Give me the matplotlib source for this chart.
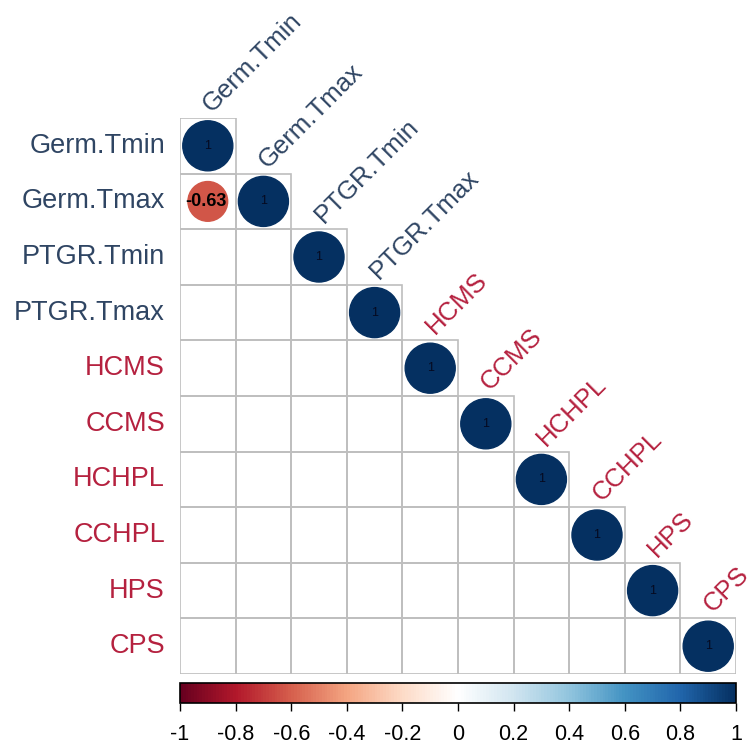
import numpy as np
import matplotlib
matplotlib.use("Agg")
import matplotlib.pyplot as plt
from matplotlib.colors import LinearSegmentedColormap, Normalize
from matplotlib.patches import Circle, Rectangle
from matplotlib.cm import ScalarMappable

plt.rcParams["font.family"] = ["Liberation Sans", "DejaVu Sans"]

labels = ["Germ.Tmin", "Germ.Tmax", "PTGR.Tmin", "PTGR.Tmax", "HCMS",
          "CCMS", "HCHPL", "CCHPL", "HPS", "CPS"]
label_groups = ["germ", "germ", "germ", "germ", "trait",
                "trait", "trait", "trait", "trait", "trait"]

# lower triangle, None = not significant (left blank)
corr_rows = [
    [1],
    [-0.63, 1],
    [None, None, 1],
    [None, None, None, 1],
    [None, None, None, None, 1],
    [None, None, None, None, None, 1],
    [None, None, None, None, None, None, 1],
    [None, None, None, None, None, None, None, 1],
    [None, None, None, None, None, None, None, None, 1],
    [None, None, None, None, None, None, None, None, None, 1],
]

bar_ticks = [-1, -0.8, -0.6, -0.4, -0.2, 0, 0.2, 0.4, 0.6, 0.8, 1]

group_colors = {"germ": "#2F4563", "trait": "#B5213F"}
rdbu = ["#67001F", "#B2182B", "#D6604D", "#F4A582", "#FDDBC7", "#FFFFFF",
        "#D1E5F0", "#92C5DE", "#4393C3", "#2166AC", "#053061"]
cmap = LinearSegmentedColormap.from_list("corr", rdbu, N=200)
norm = Normalize(-1, 1)

W, H = 752, 748
fig = plt.figure(figsize=(W / 100, H / 100), dpi=100)

n = len(labels)
left, right, top, bottom = 180, 736, 118, 674
ax = fig.add_axes([left / W, 1 - bottom / H, (right - left) / W, (bottom - top) / H])
ax.set_xlim(0, n)
ax.set_ylim(n, 0)
ax.axis("off")

for i, row in enumerate(corr_rows):
    for j, val in enumerate(row):
        ax.add_patch(Rectangle((j, i), 1, 1, facecolor="none",
                               edgecolor="#BEBEBE", lw=1.2, zorder=1))
        if val is None:
            continue
        r = 0.45 * np.sqrt(abs(val))
        c = cmap(norm(val))
        ax.add_patch(Circle((j + 0.5, i + 0.5), r, facecolor=c, edgecolor=c, zorder=2))
        if val == 1:
            ax.text(j + 0.5, i + 0.5, "1", ha="center", va="center", fontsize=9,
                    color="#050A20", zorder=3)
        else:
            ax.text(j + 0.47, i + 0.5, f"{val:.2f}", ha="center", va="center",
                    fontsize=13, fontweight="bold", color="black", zorder=3)

# row labels
for i, lab in enumerate(labels):
    ax.text(-0.27, i + 0.5, lab, ha="right", va="center", fontsize=19.5,
            color=group_colors[label_groups[i]], clip_on=False)

# diagonal column labels
for j, lab in enumerate(labels):
    ax.text(j + 0.58, j - 0.09, lab, ha="left", va="baseline", rotation=45,
            rotation_mode="anchor", fontsize=18.5,
            color=group_colors[label_groups[j]], clip_on=False)

# color bar
cax = fig.add_axes([left / W, 1 - 703 / H, (right - left) / W, 20 / H])
cb = fig.colorbar(ScalarMappable(norm=norm, cmap=cmap), cax=cax,
                  orientation="horizontal", ticks=bar_ticks)
cb.set_ticklabels([f"{t:g}" for t in bar_ticks])
cb.outline.set_linewidth(1.2)
cb.outline.set_edgecolor("black")
cax.tick_params(labelsize=15.5, length=6, width=1, pad=9, colors="black")

fig.savefig("out.png", dpi=100, facecolor="white")
